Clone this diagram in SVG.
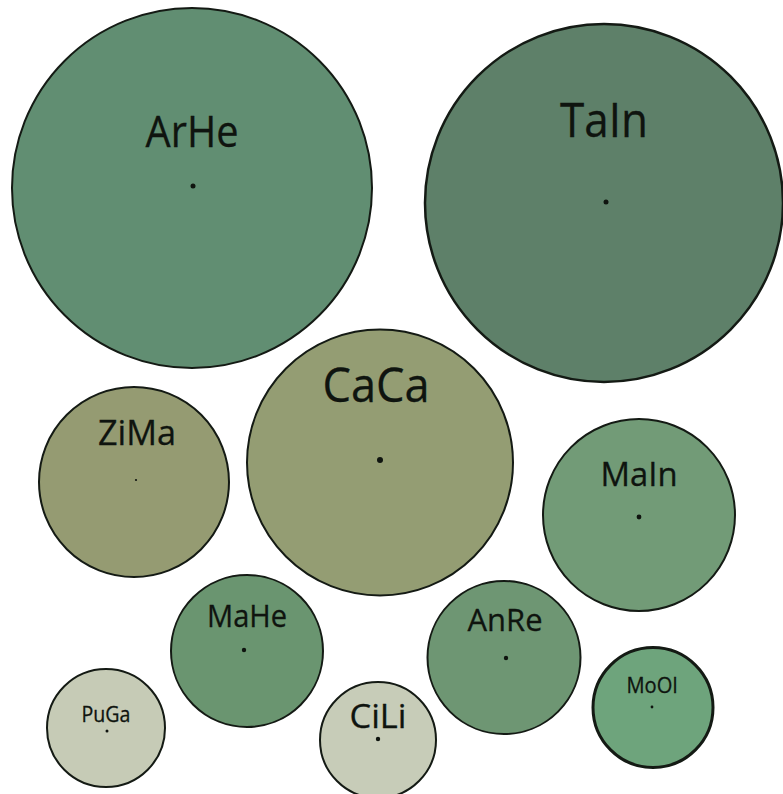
<svg xmlns="http://www.w3.org/2000/svg" width="783" height="794" viewBox="0 0 783 794">
<style>
.c{stroke:#141a14;stroke-width:2}
.t{font-family:"Open Sans","Noto Sans","Liberation Sans",sans-serif;fill:#0f140f;text-anchor:middle;stroke:#0f140f;stroke-width:0.3}
.d{fill:#0f140f}
</style>
<rect width="783" height="794" fill="#ffffff"/>
<g id="ArHe"><circle class="c" cx="192" cy="188" r="180" fill="#618e72"/><text class="t" x="192" y="147" font-size="44" textLength="93" lengthAdjust="spacingAndGlyphs">ArHe</text><circle class="d" cx="193" cy="186" r="2.5"/></g>
<g id="TaIn"><circle class="c" cx="604" cy="203" r="179" fill="#5e8069" style="stroke-width:2.5"/><text class="t" x="604" y="137" font-size="48" textLength="88" lengthAdjust="spacingAndGlyphs">TaIn</text><circle class="d" cx="606" cy="202" r="2.5"/></g>
<g id="CaCa"><circle class="c" cx="380" cy="462.5" r="133" fill="#949d73"/><text class="t" x="376" y="402" font-size="48" textLength="107" lengthAdjust="spacingAndGlyphs">CaCa</text><circle class="d" cx="380" cy="460" r="3"/></g>
<g id="ZiMa"><circle class="c" cx="134" cy="482" r="95" fill="#959b72"/><text class="t" x="137" y="445" font-size="34" textLength="78" lengthAdjust="spacingAndGlyphs">ZiMa</text><circle class="d" cx="136" cy="480" r="1.1"/></g>
<g id="MaIn"><circle class="c" cx="639" cy="515" r="96" fill="#729b77"/><text class="t" x="639" y="486" font-size="33" textLength="77" lengthAdjust="spacingAndGlyphs">MaIn</text><circle class="d" cx="639" cy="517" r="2.4"/></g>
<g id="MaHe"><circle class="c" cx="247" cy="651" r="76" fill="#6a9570"/><text class="t" x="247" y="627" font-size="31" textLength="80" lengthAdjust="spacingAndGlyphs">MaHe</text><circle class="d" cx="244" cy="650" r="2.2"/></g>
<g id="AnRe"><circle class="c" cx="504" cy="657.5" r="76.5" fill="#6e9673"/><text class="t" x="505" y="631" font-size="31" textLength="75" lengthAdjust="spacingAndGlyphs">AnRe</text><circle class="d" cx="506" cy="658" r="2.2"/></g>
<g id="PuGa"><circle class="c" cx="106" cy="728" r="59" fill="#c6cbb6"/><text class="t" x="106" y="722" font-size="22" textLength="49" lengthAdjust="spacingAndGlyphs">PuGa</text><circle class="d" cx="107" cy="731" r="1.5"/></g>
<g id="CiLi"><circle class="c" cx="378" cy="740" r="58" fill="#c7ccb8"/><text class="t" x="378" y="728" font-size="32" textLength="57" lengthAdjust="spacingAndGlyphs">CiLi</text><circle class="d" cx="378" cy="739" r="2.2"/></g>
<g id="MoOl"><circle class="c" cx="653" cy="707.5" r="60" fill="#6ea47c" style="stroke-width:3"/><text class="t" x="652" y="693" font-size="22" textLength="51" lengthAdjust="spacingAndGlyphs">MoOl</text><circle class="d" cx="652" cy="707" r="1.4"/></g>
<g id="connectors"/>
</svg>
